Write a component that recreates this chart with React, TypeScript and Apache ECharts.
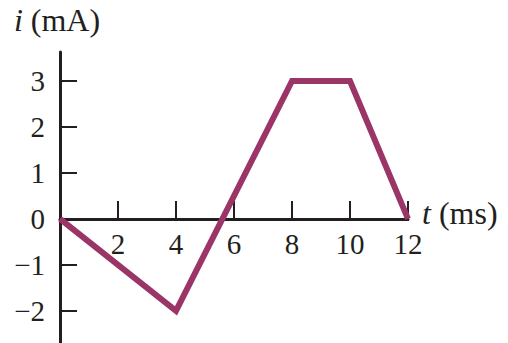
import React, { useEffect, useRef } from "react";
import * as echarts from "echarts";

const points: [number, number][] = [
  [0, 0],
  [4, -2],
  [8, 3],
  [10, 3],
  [12, 0],
];
const xTickValues = [2, 4, 6, 8, 10, 12];
const yTickValues = [-2, -1, 1, 2, 3];
const yLabelValues = [-2, -1, 0, 1, 2, 3];

const FONT = "'Liberation Serif', 'Times New Roman', serif";
const INK = "#231f20";

export default function App() {
  const ref = useRef<HTMLDivElement>(null);
  useEffect(() => {
    if (!ref.current) return;
    const chart = echarts.init(ref.current, undefined, { renderer: "svg" });
    chart.setOption({
      animation: false,
      backgroundColor: "#ffffff",
      grid: { left: 60, right: 100, top: 52, bottom: 0, outerBoundsMode: "none", containLabel: false },
      xAxis: {
        type: "value",
        min: 0,
        max: 12,
        interval: 2,
        name: "{it|t} (ms)",
        nameLocation: "end",
        nameGap: 14,
        nameTextStyle: {
          fontFamily: FONT,
          fontSize: 32,
          color: INK,
          verticalAlign: "middle",
          padding: [0, 0, 12, 0],
          rich: { it: { fontFamily: FONT, fontSize: 32, fontStyle: "italic", color: INK } },
        },
        axisLine: { show: true, onZero: true, lineStyle: { color: INK, width: 3 } },
        axisTick: {
          show: true,
          inside: true,
          length: 18,
          customValues: xTickValues,
          lineStyle: { color: INK, width: 2 },
        },
        axisLabel: { show: false },
        splitLine: { show: false },
      },
      yAxis: {
        type: "value",
        min: -2.7,
        max: 3.63,
        name: "{it|i} (mA)",
        nameLocation: "end",
        nameGap: 16,
        nameTextStyle: {
          fontFamily: FONT,
          fontSize: 32,
          color: INK,
          align: "center",
          padding: [0, 6, 0, 0],
          rich: { it: { fontFamily: FONT, fontSize: 32, fontStyle: "italic", color: INK } },
        },
        axisLine: { show: true, onZero: false, lineStyle: { color: INK, width: 3 } },
        axisTick: {
          show: true,
          inside: true,
          length: 17,
          customValues: yTickValues,
          lineStyle: { color: INK, width: 2 },
        },
        axisLabel: {
          customValues: yLabelValues,
          fontFamily: FONT,
          fontSize: 29,
          color: INK,
          margin: 15,
          formatter: (v: number) => String(v).replace("-", "\u2212"),
        },
        splitLine: { show: false },
      },
      series: [
        {
          type: "line",
          data: points,
          symbol: "none",
          lineStyle: { color: "#9b3568", width: 6, join: "miter", cap: "butt" },
          z: 1,
        },
        {
          type: "scatter",
          data: xTickValues.map((v) => [v, 0]),
          symbolSize: 0,
          silent: true,
          z: 3,
          itemStyle: { opacity: 1, color: INK },
          label: {
            show: true,
            position: "bottom",
            distance: 11,
            fontFamily: FONT,
            fontSize: 29,
            color: INK,
            opacity: 1,
            textBorderWidth: 0,
            formatter: (p: any) => String(p.value[0]),
          },
        },
      ],
    });
    return () => chart.dispose();
  }, []);
  return (
    <div
      ref={ref}
      style={{ position: "fixed", left: 0, top: 0, width: 508, height: 343 }}
    />
  );
}
